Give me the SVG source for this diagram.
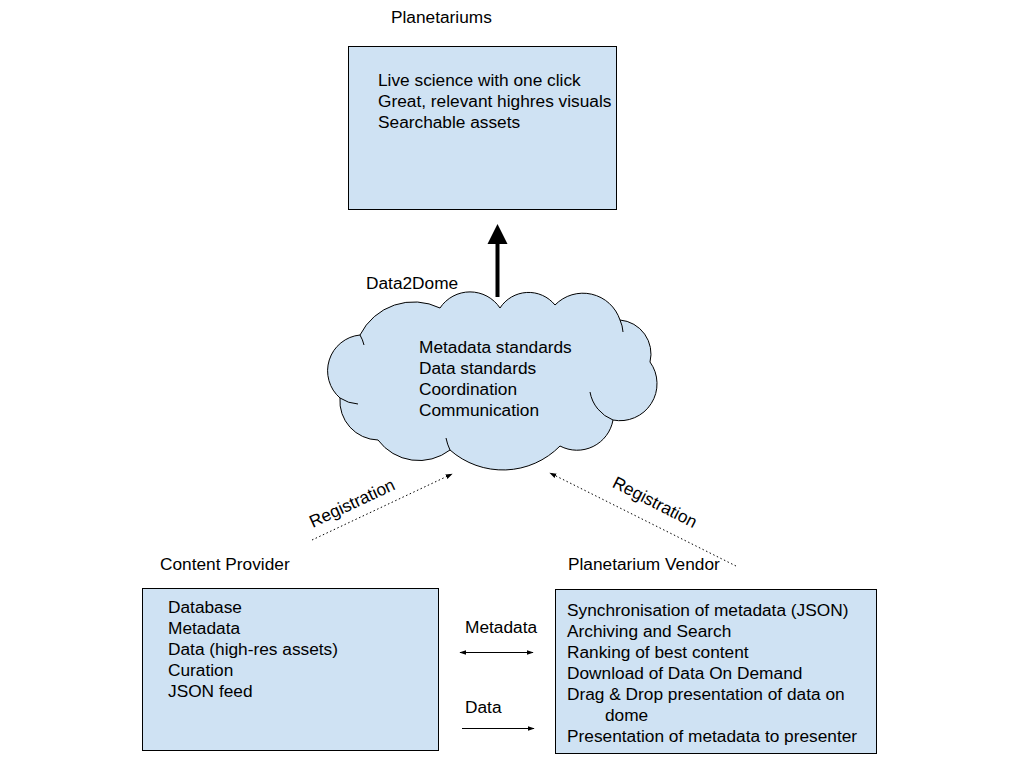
<svg xmlns="http://www.w3.org/2000/svg" width="1024" height="768" viewBox="0 0 1024 768">
<defs>
<style>
text{font-family:"Liberation Sans",Arial,sans-serif;font-size:17.3px;fill:#000}
.box{fill:#cfe2f3;stroke:#000;stroke-width:1}
.thin{stroke:#000;stroke-width:1;fill:none}
.dot{stroke:#000;stroke-width:1;fill:none;stroke-dasharray:1.5 2.5}
</style>
<marker id="bigHead" viewBox="0 0 10 10" refX="0" refY="5" markerWidth="5" markerHeight="6.5" markerUnits="strokeWidth" orient="auto"><path d="M0,0 L10,5 L0,10 z" fill="#000"/></marker>
<marker id="sm" viewBox="0 0 10 10" refX="9" refY="5" markerWidth="7" markerHeight="7" markerUnits="userSpaceOnUse" orient="auto-start-reverse"><path d="M0,1.5 L10,5 L0,8.5 z" fill="#000"/></marker>
</defs>
<rect width="1024" height="768" fill="#fff"/>

<g id="planetariums">
<text x="391" y="23">Planetariums</text>
<rect class="box" x="348.500" y="46.500" width="268" height="163"/>
<text x="378" y="86">Live science with one click</text>
<text x="378" y="107">Great, relevant highres visuals</text>
<text x="378" y="128">Searchable assets</text>
</g>

<g id="data2dome">
<text x="366" y="289">Data2Dome</text>
<path class="box" d="M340,398 A36,36 0 0 1 360,335 A60,60 0 0 1 440,308 A36,36 0 0 1 500,308 A34,34 0 0 1 555,305 A39,39 0 0 1 620,320 A34,34 0 0 1 650,362 A37,37 0 0 1 613,420 A36.500,36.500 0 0 1 560,446 A80,80 0 0 1 450,450 A51,51 0 0 1 378,440 A39,39 0 0 1 340,398 Z"/>
<path class="thin" d="M613,420 A37,37 0 0 1 590,392"/>
<path class="thin" d="M340,398 A36,36 0 0 0 358,404"/>
<path class="thin" d="M620,320 A34,34 0 0 1 623,332"/>
<path class="thin" d="M450,450 A51,51 0 0 1 446,438"/>
<path class="thin" d="M360,335 A36,36 0 0 1 364,345"/>
<text x="419" y="353">Metadata standards</text>
<text x="419" y="374">Data standards</text>
<text x="419" y="395">Coordination</text>
<text x="419" y="416">Communication</text>
</g>

<g id="content-provider">
<text x="160" y="570">Content Provider</text>
<rect class="box" x="142.500" y="588.500" width="296" height="162"/>
<text x="168" y="613">Database</text>
<text x="168" y="634">Metadata</text>
<text x="168" y="655">Data (high-res assets)</text>
<text x="168" y="676">Curation</text>
<text x="168" y="697">JSON feed</text>
</g>

<g id="planetarium-vendor">
<text x="568" y="570">Planetarium Vendor</text>
<rect class="box" x="555.500" y="589.500" width="321" height="164"/>
<text x="567" y="616">Synchronisation of metadata (JSON)</text>
<text x="567" y="637">Archiving and Search</text>
<text x="567" y="658">Ranking of best content</text>
<text x="567" y="679">Download of Data On Demand</text>
<text x="567" y="700">Drag &amp; Drop presentation of data on</text>
<text x="605" y="721">dome</text>
<text x="567" y="742">Presentation of metadata to presenter</text>
</g>

<g id="connectors">
<line x1="497.500" y1="297" x2="497.500" y2="244" stroke="#000" stroke-width="4" marker-end="url(#bigHead)"/>
<line class="dot" x1="312" y1="540" x2="452" y2="474" marker-end="url(#sm)"/>
<line class="dot" x1="736" y1="566" x2="550" y2="473" marker-end="url(#sm)"/>
<text transform="translate(352,503) rotate(-25)" text-anchor="middle" dy="6">Registration</text>
<text transform="translate(655,502) rotate(27)" text-anchor="middle" dy="6">Registration</text>
<text x="465" y="633">Metadata</text>
<line class="thin" x1="460" y1="652.500" x2="533" y2="652.500" marker-start="url(#sm)" marker-end="url(#sm)"/>
<text x="465" y="713">Data</text>
<line class="thin" x1="462" y1="728.500" x2="534" y2="728.500" marker-end="url(#sm)"/>
</g>
</svg>
